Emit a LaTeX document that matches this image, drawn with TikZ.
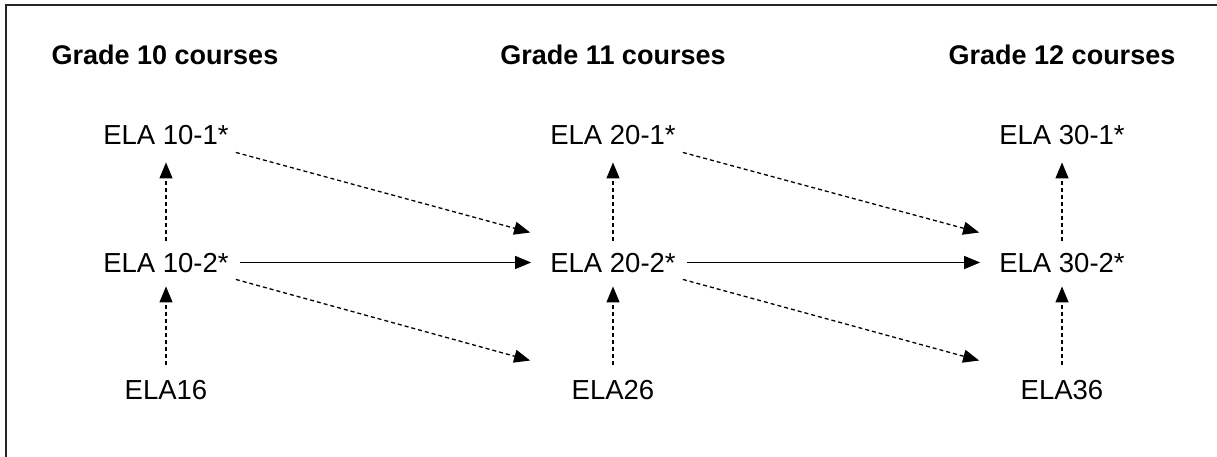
\documentclass[tikz,border=0pt]{standalone}
\usepackage{fontspec}
\setmainfont{Liberation Sans}
\usetikzlibrary{arrows.meta,calc}
\tikzset{
  course/.style={inner sep=0pt, text height=19.5pt, text depth=0pt, font=\fontsize{27.5}{30}\selectfont},
  head/.style={inner sep=0pt, text height=19.5pt, text depth=0pt, font=\fontsize{27}{30}\selectfont\bfseries},
  link/.style={line width=1.3pt, -{Triangle[length=16pt,width=13pt]}},
  optlink/.style={link, dash pattern=on 4pt off 3pt},
  frameline/.style={line width=1.5pt, draw=black!85}
}
\begin{document}
\begin{tikzpicture}[x=1pt,y=1pt]
\useasboundingbox (0,0) rectangle (1217,457);
\coordinate (fb) at (6,0);
\coordinate (fc) at (6,452);
\coordinate (fr) at (1217,452);
\draw[frameline] (fb) -- (fc) -- (fr);

\node[head] (h1) at (165,402.5) {Grade 10 courses};
\node[head] (h2) at (613,402.5) {Grade 11 courses};
\node[head] (h3) at (1062,402.5) {Grade 12 courses};

\node[course] (a1) at (166,322.5) {ELA 10-1*};
\node[course] (a2) at (166,194.5) {ELA 10-2*};
\node[course] (a3) at (166,67) {ELA16};
\node[course] (b1) at (613,322.5) {ELA 20-1*};
\node[course] (b2) at (613,194.5) {ELA 20-2*};
\node[course] (b3) at (613,67) {ELA26};
\node[course] (c1) at (1062,322.5) {ELA 30-1*};
\node[course] (c2) at (1062,194.5) {ELA 30-2*};
\node[course] (c3) at (1062,67) {ELA36};

% vertical
\foreach \n in {a,b,c}{
  \draw[optlink, shorten <=12pt, shorten >=18pt] (\n2.north) -- (\n1.south);
  \draw[optlink, shorten <=15pt, shorten >=14pt] (\n3.north) -- (\n2.south);
}
% horizontal
\draw[link, shorten <=11pt, shorten >=19pt] (a2.east) -- (b2.west);
\draw[link, shorten <=11pt, shorten >=19pt] (b2.east) -- (c2.west);
% diagonals
\draw[optlink] ($(a1.south east)+(7,-8)$) -- ($(b2.west)+(-20,30)$);
\draw[optlink] ($(a2.south east)+(7,-7)$) -- ($(b2.west)+(-20,-98)$);
\draw[optlink] ($(b1.south east)+(7,-8)$) -- ($(c2.west)+(-20,30)$);
\draw[optlink] ($(b2.south east)+(7,-7)$) -- ($(c2.west)+(-20,-98)$);
\end{tikzpicture}
\end{document}
